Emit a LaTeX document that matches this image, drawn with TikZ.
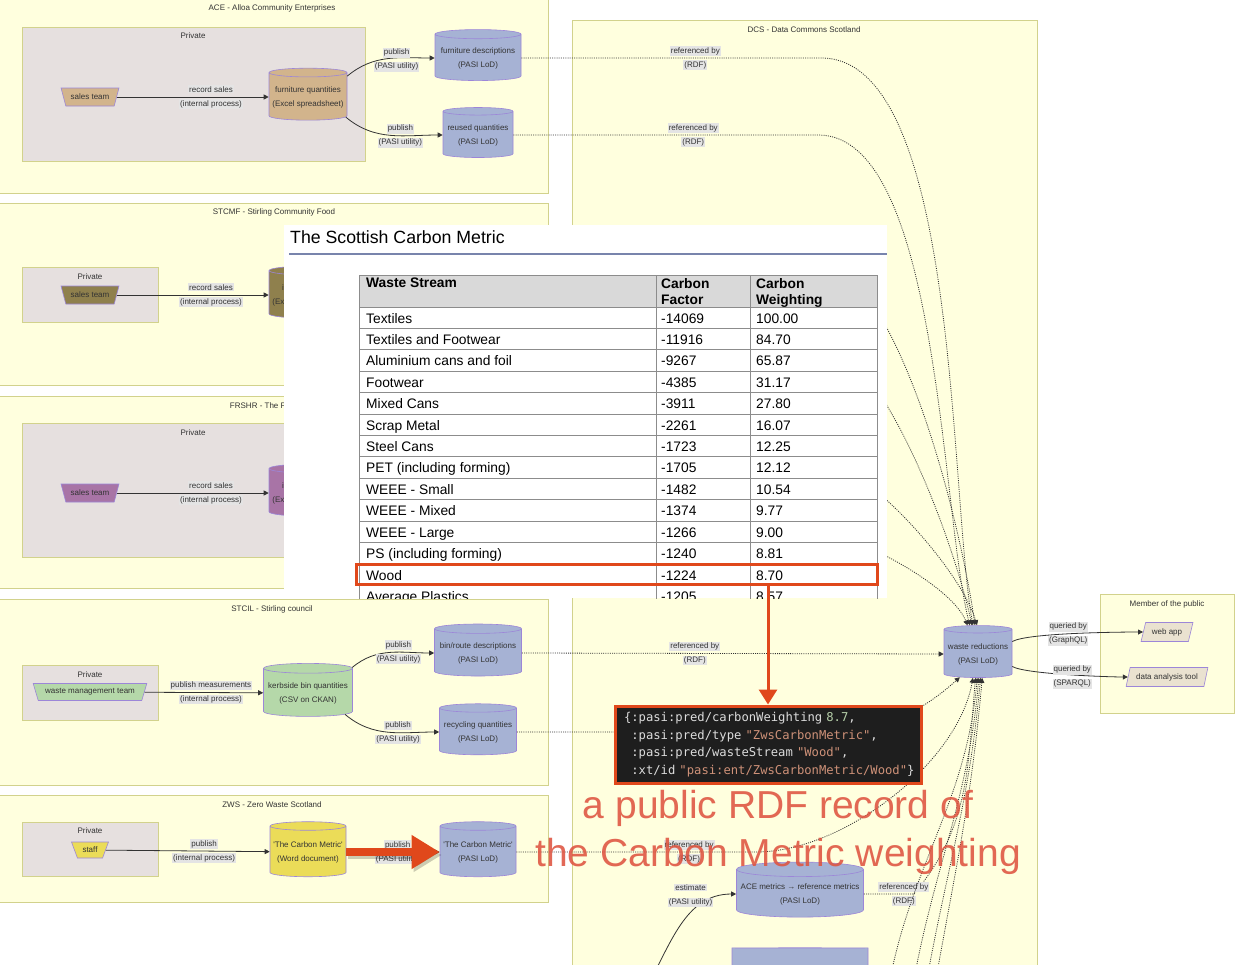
\documentclass[tikz,border=0pt]{standalone}
\usepackage{fontspec}
\setmainfont{Liberation Sans}
\setmonofont{DejaVu Sans Mono}
\usetikzlibrary{shapes.geometric,arrows.meta,positioning}

\definecolor{clusterfill}{HTML}{FFFFDE}
\definecolor{clusterline}{HTML}{D2D28C}
\definecolor{privfill}{HTML}{E6E0DF}
\definecolor{nodeline}{HTML}{9C86D8}
\definecolor{lodfill}{HTML}{A6B2D4}
\definecolor{tanfill}{HTML}{D2B48C}
\definecolor{olivefill}{HTML}{8F804D}
\definecolor{plumfill}{HTML}{A874A6}
\definecolor{greenfill}{HTML}{B5D8A9}
\definecolor{yellowfill}{HTML}{EBDC58}
\definecolor{appfill}{HTML}{EAE2D0}
\definecolor{lblfill}{HTML}{E4E4E4}
\definecolor{labeltext}{HTML}{333333}
\definecolor{hired}{HTML}{E0481B}
\definecolor{notered}{HTML}{DE5440}
\definecolor{codebg}{HTML}{1E1E1E}
\definecolor{codefg}{HTML}{DCDCDC}
\definecolor{codenum}{HTML}{B5CEA8}
\definecolor{codestr}{HTML}{CE9178}
\definecolor{ruleblue}{HTML}{7884AC}
\definecolor{hdrgray}{HTML}{D9D9D9}
\definecolor{gridgray}{HTML}{8C8C8C}

\newcommand\dgfont{\fontsize{8}{14}\selectfont}
\newcommand\hilab[1]{{\setlength\fboxsep{1pt}\colorbox{lblfill}{#1}}}

\tikzset{
    cluster/.style={draw=clusterline, fill=clusterfill, line width=0.8pt},
    privbox/.style={draw=clusterline, fill=privfill, line width=0.8pt},
    ctitle/.style={font=\dgfont, text=labeltext, inner sep=0pt},
    db/.style={cylinder, shape border rotate=90, aspect=0.12, draw=nodeline, line width=0.6pt,
        font=\dgfont, text=labeltext, align=center, inner sep=1pt},
    actor/.style={trapezium, shape border rotate=180, trapezium angle=63, trapezium stretches=true,
        draw=nodeline, line width=0.6pt, font=\dgfont, text=labeltext, inner sep=1pt},
    client/.style={trapezium, trapezium left angle=70, trapezium right angle=110, trapezium stretches=true,
        draw=nodeline, line width=0.6pt, fill=appfill, font=\dgfont, text=labeltext, inner sep=1pt},
    elbl/.style={font=\dgfont, text=labeltext, align=center, inner sep=0pt},
    flow/.style={draw=black!80, line width=0.8pt, -{Triangle[length=5pt,width=5pt]}},
    refline/.style={flow, dash pattern=on 1pt off 1.2pt},
    cell/.style={font=\fontsize{13.8}{16}\selectfont, inner sep=0pt},
    hdr/.style={font=\fontsize{13.8}{16}\selectfont\bfseries, inner sep=0pt, align=left},
}

\begin{document}
\begin{tikzpicture}[x=1pt,y=-1pt]
    \useasboundingbox (0,0) rectangle (1239,964);
    \clip (0,0) rectangle (1239,964);
    \fill[white] (0,0) rectangle (1239,964);

    % clusters
    \draw[cluster] (-5,-5) rectangle (548,193);
    \node[ctitle] (acetitle) at (272,8) {ACE - Alloa Community Enterprises};
    \draw[privbox] (22,27) rectangle (365,161);
    \node[ctitle] (aceprivate) at (193,36) {Private};

    \draw[cluster] (-5,203) rectangle (548,385);
    \node[ctitle] (stcmftitle) at (274,212) {STCMF - Stirling Community Food};
    \draw[privbox] (22,267) rectangle (158,322);
    \node[ctitle] (stcmfprivate) at (90,277) {Private};

    \draw[cluster] (-5,396) rectangle (548,588);
    \node[ctitle] (frshrtitle) at (274,406) {FRSHR - The Fair Share};
    \draw[privbox] (22,423) rectangle (365,557);
    \node[ctitle] (frshrprivate) at (193,433) {Private};

    \draw[cluster] (-5,599) rectangle (548,785);
    \node[ctitle] (stciltitle) at (272,609) {STCIL - Stirling council};
    \draw[privbox] (22,665) rectangle (158,720);
    \node[ctitle] (stcilprivate) at (90,675) {Private};

    \draw[cluster] (-5,795) rectangle (548,902);
    \node[ctitle] (zwstitle) at (272,805) {ZWS - Zero Waste Scotland};
    \draw[privbox] (22,822) rectangle (158,876);
    \node[ctitle] (zwsprivate) at (90,831) {Private};

    \draw[cluster] (572,20) rectangle (1037,980);
    \node[ctitle] (dcstitle) at (804,30) {DCS - Data Commons Scotland};

    \draw[cluster] (1100,594) rectangle (1234,713);
    \node[ctitle] (pubtitle) at (1167,604) {Member of the public};

    % nodes
    \node[actor, fill=tanfill, minimum width=58, minimum height=18] (aceteam) at (90,97) {sales team};
    \node[db, fill=tanfill, minimum width=78, minimum height=52] (acefq) at (308,97) {furniture quantities\\(Excel spreadsheet)};
    \node[db, fill=lodfill, minimum width=86, minimum height=51] (acefd) at (478,58) {furniture descriptions\\(PASI LoD)};
    \node[db, fill=lodfill, minimum width=70, minimum height=50] (acerq) at (478,135) {reused quantities\\(PASI LoD)};

    \node[actor, fill=olivefill, minimum width=58, minimum height=18] (stcmfteam) at (90,295) {sales team};
    \node[db, fill=olivefill, minimum width=78, minimum height=52] (stcmfiq) at (308,295) {item quantities\\(Excel spreadsheet)};
    \coordinate (stcmfout1) at (600,250);
    \coordinate (stcmfout2) at (600,330);

    \node[actor, fill=plumfill, minimum width=58, minimum height=18] (frshrteam) at (90,493) {sales team};
    \node[db, fill=plumfill, minimum width=78, minimum height=52] (frshriq) at (308,493) {item quantities\\(Excel spreadsheet)};
    \coordinate (frshrout1) at (600,452);
    \coordinate (frshrout2) at (600,528);

    \node[actor, fill=greenfill, minimum width=114, minimum height=17] (stcilteam) at (90,692) {waste management team};
    \node[db, fill=greenfill, minimum width=89, minimum height=53] (stcilkb) at (308,693) {kerbside bin quantities\\(CSV on CKAN)};
    \node[db, fill=lodfill, minimum width=87, minimum height=52] (stcilbr) at (478,653) {bin/route descriptions\\(PASI LoD)};
    \node[db, fill=lodfill, minimum width=77, minimum height=51] (stcilrq) at (478,732) {recycling quantities\\(PASI LoD)};

    \node[actor, fill=yellowfill, minimum width=37, minimum height=16] (zwsstaff) at (90,850) {staff};
    \node[db, fill=yellowfill, minimum width=76, minimum height=55] (zwsword) at (308,852) {\textquotesingle The Carbon Metric\textquotesingle\\(Word document)};
    \node[db, fill=lodfill, minimum width=76, minimum height=55] (zwslod) at (478,852) {\textquotesingle The Carbon Metric\textquotesingle\\(PASI LoD)};

    \node[db, fill=lodfill, minimum width=68, minimum height=52] (wr) at (978,654) {waste reductions\\(PASI LoD)};
    \node[db, fill=lodfill, minimum width=127, minimum height=55] (arm) at (800,894) {ACE metrics \textrightarrow\ reference metrics\\(PASI LoD)};
    \node[db, fill=lodfill, minimum width=136, minimum height=74] (below) at (800,985) {};
    \coordinate (armsrc) at (645,990);
    \foreach \x [count=\k] in {888,912,925,934} {
            \coordinate (low\k) at (\x,990);
        }

    \node[client, minimum width=52, minimum height=19] (webapp) at (1167,632) {web app};
    \node[client, minimum width=82, minimum height=19] (analysis) at (1167,677) {data analysis tool};

    % connectors
    \draw[flow] (aceteam) -- node[elbl,pos=.62]{\hilab{record sales}\\\hilab{(internal process)}} (acefq);
    \draw[flow] (acefq.28) to[out=40,in=180] node[elbl,pos=.6,yshift=-2pt]{\hilab{publish}\\\hilab{(PASI utility)}} (acefd.west);
    \draw[flow] (acefq.-28) to[out=-40,in=180] node[elbl,pos=.6]{\hilab{publish}\\\hilab{(PASI utility)}} (acerq.west);
    \draw[flow] (stcmfteam) -- node[elbl,pos=.62]{\hilab{record sales}\\\hilab{(internal process)}} (stcmfiq);
    \draw[flow] (frshrteam) -- node[elbl,pos=.62]{\hilab{record sales}\\\hilab{(internal process)}} (frshriq);
    \draw[flow] (stcilteam) -- node[elbl,pos=.56]{\hilab{publish measurements}\\\hilab{(internal process)}} (stcilkb);
    \draw[flow] (stcilkb.30) to[out=40,in=180] node[elbl,pos=.6]{\hilab{publish}\\\hilab{(PASI utility)}} (stcilbr.west);
    \draw[flow] (stcilkb.-30) to[out=-40,in=180] node[elbl,pos=.6]{\hilab{publish}\\\hilab{(PASI utility)}} (stcilrq.west);
    \draw[flow] (zwsstaff) -- node[elbl,pos=.6]{\hilab{publish}\\\hilab{(internal process)}} (zwsword);
    \draw[flow] (zwsword) -- node[elbl,pos=.55]{\hilab{publish}\\\hilab{(PASI utility)}} (zwslod);

    \draw[refline] (acefd.east) -- node[elbl,pos=.58]{\hilab{referenced by}\\\hilab{(RDF)}} ++(300,0) to[out=0,in=100,looseness=.6] (wr.100);
    \draw[refline] (acerq.east) -- node[elbl,pos=.59]{\hilab{referenced by}\\\hilab{(RDF)}} ++(305,0) to[out=0,in=104,looseness=.6] (wr.106);
    \draw[refline] (stcmfout1) -- ++(200,0) to[out=0,in=98,looseness=.6] (wr.96);
    \draw[refline] (stcmfout2) -- ++(200,0) to[out=0,in=102,looseness=.6] (wr.102);
    \draw[refline] (frshrout1) -- ++(200,0) to[out=0,in=106,looseness=.6] (wr.92);
    \draw[refline] (frshrout2) -- ++(200,0) to[out=0,in=112,looseness=.6] (wr.110);
    \draw[refline] (stcilbr.east) -- node[elbl,pos=.41]{\hilab{referenced by}\\\hilab{(RDF)}} (wr.west);
    \draw[refline] (stcilrq.east) -- ++(300,0) to[out=0,in=222] (wr.232);
    \draw[refline] (zwslod.east) -- node[elbl,pos=.72]{\hilab{referenced by}\\\hilab{(RDF)}} ++(240,0) to[out=0,in=-100,looseness=.8] (wr.258);
    \draw[refline] (arm.east) -- node[elbl,pos=.8]{\hilab{referenced by}\\\hilab{(RDF)}} ++(50,0) to[out=50,in=-95] (wr.264);
    \foreach \k/\a in {1/268,2/272,3/276,4/280} {
            \draw[refline] (low\k) to[out=80,in=-95] (wr.\a);
        }
    \draw[flow] (armsrc) to[out=60,in=180] node[elbl,pos=.7,xshift=-8pt,yshift=11pt]{\hilab{estimate}\\\hilab{(PASI utility)}} (arm.west);

    \draw[flow] (wr.20) to[out=30,in=180,looseness=.35] node[elbl,pos=.45]{\hilab{queried by}\\\hilab{(GraphQL)}} (webapp.west);
    \draw[flow] (wr.-20) to[out=-30,in=180,looseness=.35] node[elbl,pos=.52,yshift=-2pt]{\hilab{queried by}\\\hilab{(SPARQL)}} (analysis.west);

    % the table screenshot
    \begin{scope}
        \clip (284,225) rectangle (887,598);
        \fill[white] (284,225) rectangle (887,598);
        \node[anchor=west, inner sep=0pt, font=\fontsize{17.7}{20}\selectfont] (scmtitle) at (290,237) {The Scottish Carbon Metric};
        \draw[ruleblue, line width=1.2pt] (289,254) -- (887,254);
        \fill[hdrgray] (359,275) rectangle (877,307);
        \foreach \i in {0,...,14} {
                \draw[gridgray, line width=1pt] (359,{307+21.42*\i}) -- (877,{307+21.42*\i});
            }
        \draw[gridgray, line width=1pt] (359,275) -- (877,275);
        \foreach \x in {359,656,750,877} {
                \draw[gridgray, line width=1pt] (\x,275) -- (\x,620);
            }
        \node[hdr, anchor=north west] (hstream) at (366,278) {Waste Stream};
        \node[hdr, anchor=north west] (hfactor) at (661,278) {Carbon\\Factor};
        \node[hdr, anchor=north west] (hweight) at (756,278) {Carbon\\Weighting};
        \foreach \name/\factor/\weight [count=\i from 0] in {
                Textiles/-14069/100.00,
                Textiles and Footwear/-11916/84.70,
                Aluminium cans and foil/-9267/65.87,
                Footwear/-4385/31.17,
                Mixed Cans/-3911/27.80,
                Scrap Metal/-2261/16.07,
                Steel Cans/-1723/12.25,
                PET (including forming)/-1705/12.12,
                WEEE - Small/-1482/10.54,
                WEEE - Mixed/-1374/9.77,
                WEEE - Large/-1266/9.00,
                PS (including forming)/-1240/8.81,
                Wood/-1224/8.70,
                Average Plastics/-1205/8.57} {
                \node[cell, anchor=base west] (stream\i) at (366,{323+21.42*\i}) {\name};
                \node[cell, anchor=base west] (factor\i) at (661,{323+21.42*\i}) {\factor};
                \node[cell, anchor=base west] (weight\i) at (756,{323+21.42*\i}) {\weight};
            }
    \end{scope}

    % highlight, record and note
    \node[draw=hired, line width=3pt, minimum width=521, minimum height=20, inner sep=0pt] (woodrow) at (616.5,574) {};
    \node[draw=hired, line width=3pt, fill=codebg, text=codefg, inner xsep=9pt, inner ysep=0pt, minimum height=77,
        text width=288, align=left, font=\ttfamily\fontsize{12.2}{17.6}\selectfont] (rdf) at (768,744.5)
        {\{:pasi:pred/carbonWeighting \textcolor{codenum}{8.7},\\
         \phantom{\{}:pasi:pred/type \textcolor{codestr}{"ZwsCarbonMetric"},\\
         \phantom{\{}:pasi:pred/wasteStream \textcolor{codestr}{"Wood"},\\
         \phantom{\{}:xt/id \textcolor{codestr}{"pasi:ent/ZwsCarbonMetric/Wood"}\}};
    \draw[hired, line width=3pt, -{Triangle[length=15pt,width=18pt]}] (woodrow.south -| rdf.north) -- (rdf.north);

    \node[text=notered, opacity=.88, align=center, inner sep=0pt, font=\fontsize{39}{48}\selectfont] (note) at (778,832)
        {a public RDF record of\\the Carbon Metric weighting};

    \draw[black, opacity=.2, line width=8pt, -{Triangle[length=28pt,width=32pt]}] ([shift={(2,3)}]zwsword.east) -- ([shift={(2,3)}]zwslod.west);
    \draw[hired, line width=8pt, -{Triangle[length=28pt,width=32pt]}] (zwsword.east) -- (zwslod.west);
\end{tikzpicture}
\end{document}
